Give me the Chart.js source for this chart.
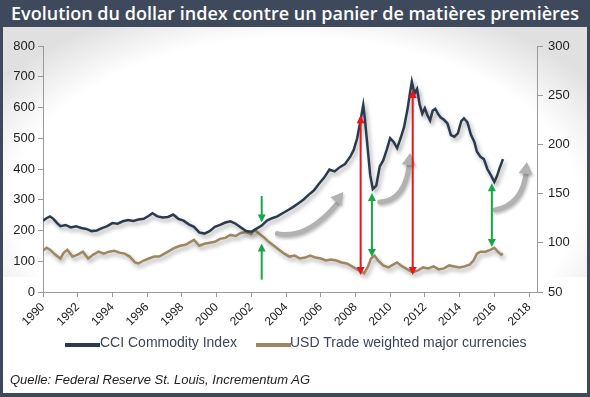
<!DOCTYPE html>
<html>
<head>
<meta charset="utf-8">
<script src="https://cdn.jsdelivr.net/npm/chart.js@4"></script>
<style>
  body { margin: 0; width: 590px; height: 397px; background: #3e4a5c; position: relative; overflow: hidden; font-family: "Liberation Sans", Arial, sans-serif; }
  #title { position: absolute; left: 0; top: 0; width: 590px; height: 27px; line-height: 27px; text-align: center; color: #fff; font-family: "Open Sans", sans-serif; font-weight: 600; font-size: 18px; white-space: nowrap; }
  #panel { position: absolute; left: 3px; top: 27px; width: 584px; height: 366px; background: radial-gradient(ellipse 62% 58% at 50% 48%, #ffffff 78%, #e0e0e0 100%); }
  #panel2 { position: absolute; left: 0; top: 250px; width: 584px; height: 116px; background: #fff; }
  canvas { position: absolute; left: 0; top: 0; }
  .leg { position: absolute; top: 334px; font-size: 14px; color: #3c4556; white-space: nowrap; }
  .sw { position: absolute; top: 343px; height: 4px; width: 35px; }
  #src { position: absolute; left: 10px; top: 372px; font-size: 13px; font-style: italic; color: #222; }
</style>
</head>
<body>
<div id="title">Evolution du dollar index contre un panier de matières premières</div>
<div id="panel"><div id="panel2"></div><canvas id="canvas" width="584" height="366"></canvas></div>
<div class="sw" style="left:65px;background:#2c3a4f"></div>
<div class="leg" style="left:100px">CCI Commodity Index</div>
<div class="sw" style="left:256px;background:#9e8660"></div>
<div class="leg" style="left:290px">USD Trade weighted major currencies</div>
<div id="src">Quelle: Federal Reserve St. Louis, Incrementum AG</div>
<script>
const cciYears = [1990.0,1990.2,1990.4,1990.6,1990.8,1991.0,1991.3,1991.6,1991.9,1992.2,1992.5,1992.8,1993.1,1993.4,1993.7,1994.0,1994.3,1994.6,1994.9,1995.2,1995.5,1995.8,1996.1,1996.3,1996.6,1996.9,1997.2,1997.5,1997.8,1998.1,1998.4,1998.7,1999.0,1999.3,1999.6,1999.9,2000.2,2000.5,2000.8,2001.1,2001.4,2001.7,2002.0,2002.3,2002.6,2002.9,2003.2,2003.5,2003.8,2004.1,2004.4,2004.7,2005.0,2005.3,2005.6,2005.9,2006.2,2006.5,2006.8,2007.1,2007.4,2007.7,2007.9,2008.1,2008.3,2008.45,2008.55,2008.7,2008.85,2009.0,2009.2,2009.4,2009.6,2009.8,2010.0,2010.2,2010.4,2010.6,2010.8,2011.0,2011.15,2011.25,2011.4,2011.55,2011.7,2011.85,2012.0,2012.15,2012.3,2012.45,2012.6,2012.75,2012.9,2013.1,2013.3,2013.5,2013.7,2013.9,2014.1,2014.25,2014.45,2014.65,2014.85,2015.0,2015.2,2015.4,2015.6,2015.8,2016.0,2016.15,2016.3,2016.5]
const cciValues = [232,240,246,238,225,214,218,210,214,208,205,198,200,208,214,224,222,230,234,231,236,238,248,256,246,242,244,252,238,232,220,212,194,190,198,212,218,226,230,222,210,198,196,206,216,232,240,246,256,266,276,288,300,316,330,352,372,398,392,406,416,440,462,500,560,608,560,470,380,335,346,408,428,462,500,488,468,500,536,594,650,684,645,660,610,580,598,575,558,590,596,580,568,560,548,510,505,516,556,565,552,512,488,456,440,432,400,380,358,376,402,432]

const usdYears = [1990.0,1990.2,1990.4,1990.7,1991.0,1991.2,1991.4,1991.7,1992.0,1992.3,1992.6,1992.9,1993.2,1993.5,1993.8,1994.1,1994.4,1994.7,1995.0,1995.3,1995.5,1995.8,1996.1,1996.4,1996.7,1997.0,1997.3,1997.6,1997.9,1998.2,1998.5,1998.7,1999.0,1999.3,1999.6,1999.9,2000.2,2000.5,2000.8,2001.1,2001.4,2001.7,2002.0,2002.2,2002.4,2002.7,2003.0,2003.3,2003.6,2003.9,2004.2,2004.5,2004.8,2005.1,2005.4,2005.7,2006.0,2006.3,2006.6,2006.9,2007.2,2007.5,2007.8,2008.1,2008.3,2008.5,2008.7,2008.9,2009.1,2009.3,2009.6,2009.9,2010.2,2010.4,2010.7,2011.0,2011.3,2011.6,2011.9,2012.2,2012.5,2012.8,2013.1,2013.4,2013.7,2014.0,2014.3,2014.6,2014.8,2015.0,2015.2,2015.5,2015.8,2016.0,2016.2,2016.4,2016.5]
const usdValues = [92,95,93,88,84,90,93,86,88,91,84,88,91,89,91,92,90,89,86,80,79,82,84,86,86,89,92,95,97,98,101,103,97,99,100,101,104,105,108,107,110,111,109,113,110,106,101,97,93,89,86,87,84,85,87,85,84,82,83,82,80,79,76,73,71,69,75,84,87,82,77,75,78,80,76,73,70,72,75,74,76,73,74,77,76,75,76,78,82,89,91,91,93,95,91,88,89]

// arrows in data units (x = year, y = left axis)
const straightArrows = [
  { color: '#19a64a', from: [2002.6, 312], to: [2002.6, 226], heads: 'end' },
  { color: '#19a64a', from: [2002.6, 40], to: [2002.6, 158], heads: 'end' },
  { color: '#e8161c', from: [2008.3, 575], to: [2008.3, 55], heads: 'both' },
  { color: '#19a64a', from: [2008.95, 322], to: [2008.95, 114], heads: 'both' },
  { color: '#e8161c', from: [2011.3, 657], to: [2011.3, 55], heads: 'both' },
  { color: '#19a64a', from: [2015.86, 354], to: [2015.86, 146], heads: 'both' }
]
const curvedArrows = [
  { from: [2003.5, 190], ctrl: [2005.2, 170], to: [2007.3, 325] },
  { from: [2009.4, 293], ctrl: [2010.85, 296], to: [2011.15, 452] },
  { from: [2016.04, 267], ctrl: [2017.6, 283], to: [2017.88, 423] }
]

const toPts = (xs, ys) => xs.map((x, i) => ({ x: x, y: ys[i] }))

function head(ctx, x1, y1, x2, y2, len, wid) {
  const a = Math.atan2(y2 - y1, x2 - x1)
  ctx.beginPath()
  ctx.moveTo(x2, y2)
  ctx.lineTo(x2 - len * Math.cos(a) + wid * Math.sin(a), y2 - len * Math.sin(a) - wid * Math.cos(a))
  ctx.lineTo(x2 - len * Math.cos(a) - wid * Math.sin(a), y2 - len * Math.sin(a) + wid * Math.cos(a))
  ctx.closePath()
  ctx.fill()
}

const shadowPlugin = {
  id: 'shadow',
  beforeDatasetDraw(chart) {
    const ctx = chart.ctx
    ctx.save()
    ctx.shadowColor = 'rgba(0,0,0,0.35)'
    ctx.shadowBlur = 4
    ctx.shadowOffsetX = 2
    ctx.shadowOffsetY = 3
  },
  afterDatasetDraw(chart) {
    chart.ctx.restore()
  }
}

const arrowPlugin = {
  id: 'arrows',
  afterDatasetsDraw(chart) {
    const ctx = chart.ctx
    const sx = chart.scales.x, sy = chart.scales.y
    ctx.save()
    // grey curved arrows
    curvedArrows.forEach(c => {
      const x1 = sx.getPixelForValue(c.from[0]), y1 = sy.getPixelForValue(c.from[1])
      const cx = sx.getPixelForValue(c.ctrl[0]), cy = sy.getPixelForValue(c.ctrl[1])
      const x2 = sx.getPixelForValue(c.to[0]), y2 = sy.getPixelForValue(c.to[1])
      const hx = x2 - (x2 - cx) * 0.12, hy = y2 - (y2 - cy) * 0.12
      ctx.shadowColor = 'rgba(0,0,0,0.25)'
      ctx.shadowBlur = 3
      ctx.shadowOffsetX = 1
      ctx.shadowOffsetY = 2
      ctx.strokeStyle = '#b2b2b2'
      ctx.fillStyle = '#b2b2b2'
      ctx.lineWidth = 5
      ctx.lineCap = 'round'
      ctx.beginPath()
      ctx.moveTo(x1, y1)
      ctx.quadraticCurveTo(cx, cy, hx + (cx - x2) * 0.05, hy + 6)
      ctx.stroke()
      head(ctx, cx, cy, x2, y2, 12, 7)
    })
    ctx.shadowColor = 'transparent'
    // straight arrows
    straightArrows.forEach(a => {
      const x1 = sx.getPixelForValue(a.from[0]), y1 = sy.getPixelForValue(a.from[1])
      const x2 = sx.getPixelForValue(a.to[0]), y2 = sy.getPixelForValue(a.to[1])
      ctx.strokeStyle = a.color
      ctx.fillStyle = a.color
      ctx.lineWidth = 2
      ctx.lineCap = 'butt'
      const dir = Math.sign(y2 - y1)
      ctx.beginPath()
      ctx.moveTo(x1, a.heads === 'both' ? y1 + dir * 6 : y1)
      ctx.lineTo(x2, y2 - dir * 6)
      ctx.stroke()
      head(ctx, x1, y1, x2, y2, 8, 4)
      if (a.heads === 'both') head(ctx, x2, y2, x1, y1, 8, 4)
    })
    ctx.restore()
  }
}

const axisGrid = { display: true, drawOnChartArea: false, drawTicks: true, tickLength: 5, color: '#9a9a9a' }

const config = {
  type: 'line',
  data: {
    datasets: [
      {
        label: 'CCI Commodity Index',
        data: toPts(cciYears, cciValues),
        borderColor: '#2c3a4f',
        borderWidth: 2.5,
        pointRadius: 0,
        tension: 0,
        yAxisID: 'y'
      },
      {
        label: 'USD Trade weighted major currencies',
        data: toPts(usdYears, usdValues),
        borderColor: '#9e8660',
        borderWidth: 2.5,
        pointRadius: 0,
        tension: 0,
        yAxisID: 'y2'
      }
    ]
  },
  options: {
    responsive: false,
    animation: false,
    layout: { padding: { left: 0, right: 0, top: 19, bottom: 0 } },
    plugins: { legend: { display: false }, tooltip: { enabled: false } },
    scales: {
      x: {
        type: 'linear',
        min: 1990,
        max: 2018.46,
        grid: axisGrid,
        border: { color: '#9a9a9a' },
        ticks: {
          stepSize: 2,
          includeBounds: false,
          maxRotation: 45,
          minRotation: 45,
          color: '#222',
          font: { family: 'Liberation Sans', size: 12 },
          callback: v => String(v)
        },
        afterFit: s => { s.height = 101 }
      },
      y: {
        position: 'left',
        min: 0,
        max: 800,
        grid: axisGrid,
        border: { color: '#9a9a9a' },
        ticks: { stepSize: 100, padding: 3, color: '#222', font: { family: 'Liberation Sans', size: 13 } },
        afterFit: s => { s.width = 40 }
      },
      y2: {
        position: 'right',
        min: 50,
        max: 300,
        grid: Object.assign({}, axisGrid, { tickLength: 6 }),
        border: { color: '#9a9a9a' },
        ticks: { stepSize: 50, padding: 5, color: '#222', font: { family: 'Liberation Sans', size: 13 } },
        afterFit: s => { s.width = 50 }
      }
    }
  },
  plugins: [shadowPlugin, arrowPlugin]
}

const canvas = document.getElementById('canvas')
const chart = new Chart(canvas, config)
</script>
</body>
</html>
